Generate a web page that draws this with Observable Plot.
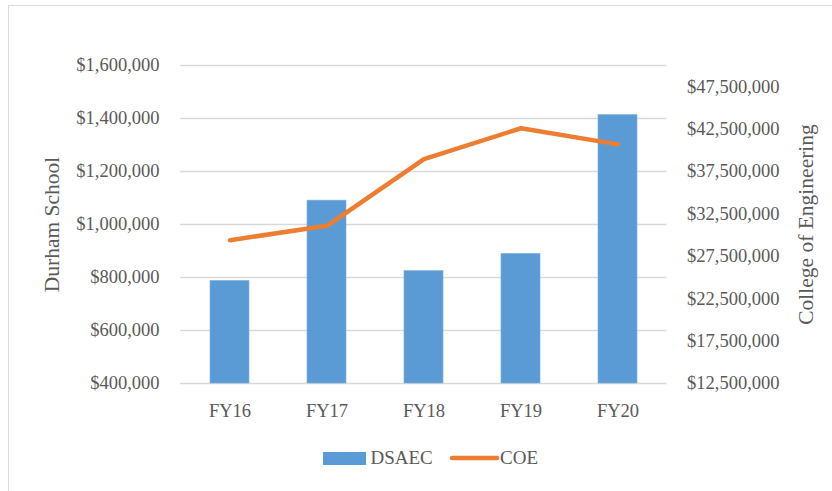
<!DOCTYPE html>
<html>
<head>
<meta charset="utf-8">
<script src="https://cdn.jsdelivr.net/npm/d3@7"></script>
<script src="https://cdn.jsdelivr.net/npm/@observablehq/plot@0.6"></script>
<style>
  html, body { margin: 0; padding: 0; background: #fff; overflow: hidden; width: 832px; height: 491px; }
  #frame { position: absolute; left: 8px; top: 5px; width: 900px; height: 600px; border: 1.5px solid #d9d9d9; box-sizing: border-box; }
  #chart { position: absolute; left: 0; top: 0; }
  #chart svg, #chart svg text { font-family: "Liberation Serif", "Times New Roman", Times, "DejaVu Serif", serif !important; }
  .leg { position: absolute; font-family: "Liberation Serif", "Times New Roman", Times, "DejaVu Serif", serif; font-size: 19px; line-height: 19px; color: #595959; white-space: nowrap; }
</style>
</head>
<body>
<div id="frame"></div>
<div id="chart"></div>
<div id="legend"></div>
<script>
// ---- Data ----
const categories = ["FY16", "FY17", "FY18", "FY19", "FY20"];
const dsaec = [787000, 1090000, 824000, 889000, 1413000];      // Durham School (left axis)
const coe = [29400000, 31100000, 38950000, 42600000, 40700000]; // College of Engineering (right axis)
const leftTicks = [400000, 600000, 800000, 1000000, 1200000, 1400000, 1600000];
const rightTicks = [12500000, 17500000, 22500000, 27500000, 32500000, 37500000, 42500000, 47500000];
const leftDomain = [400000, 1600000];
const rightDomain = [12500000, 50000000];
const seriesNames = ["DSAEC", "COE"];

const colBar = "#5b9bd5", colLine = "#ed7d31", textCol = "#595959", gridCol = "#d9d9d9";

// map right-axis values into left-axis units
const toLeft = v => leftDomain[0] + (v - rightDomain[0]) * (leftDomain[1] - leftDomain[0]) / (rightDomain[1] - rightDomain[0]);
const toRight = v => rightDomain[0] + (v - leftDomain[0]) * (rightDomain[1] - rightDomain[0]) / (leftDomain[1] - leftDomain[0]);
const fmt = d3.format("$,.0f");

const rows = categories.map((c, i) => ({fy: c, dsaec: dsaec[i], coe: coe[i]}));

const chart = Plot.plot({
  width: 832,
  height: 430,
  marginLeft: 180,
  marginRight: 165.5,
  marginTop: 65,
  marginBottom: 47,
  style: {fontFamily: "'Liberation Serif', serif", fontSize: "18.5px", color: textCol, background: "transparent"},
  x: {domain: categories, paddingInner: 0.6, paddingOuter: 0.3},
  y: {domain: leftDomain},
  marks: [
    Plot.gridY(leftTicks, {stroke: gridCol, strokeOpacity: 1, strokeWidth: 1.5}),
    Plot.barY(rows, {x: "fy", y1: leftDomain[0], y2: "dsaec", fill: colBar, stroke: "#7fb0de", strokeWidth: 0.6}),
    Plot.lineY(rows, {x: "fy", y: d => toLeft(d.coe), stroke: colLine, strokeWidth: 4.5, strokeLinecap: "round", strokeLinejoin: "round"}),
    Plot.axisY({anchor: "left", ticks: leftTicks, tickFormat: d => fmt(d), tickSize: 0, tickPadding: 21, label: null, fill: textCol}),
    Plot.axisY({anchor: "right", ticks: rightTicks.map(toLeft), tickFormat: d => fmt(Math.round(toRight(d) / 1000) * 1000), tickSize: 0, tickPadding: 20, label: null, fill: textCol}),
    Plot.axisX({anchor: "bottom", tickSize: 0, tickPadding: 20, label: null, fill: textCol}),
    Plot.text(["Durham School"], {frameAnchor: "left", textAnchor: "middle", dx: -128, rotate: -90, fontSize: 21.5, fill: textCol}),
    Plot.text(["College of Engineering"], {frameAnchor: "right", textAnchor: "middle", dx: 139, rotate: -90, fontSize: 21.5, fill: textCol})
  ]
});
document.getElementById("chart").appendChild(chart);

// ---- Legend ----
const legend = document.getElementById("legend");
legend.innerHTML = `
  <div style="position:absolute;left:323px;top:452px;width:43px;height:12.5px;background:${colBar}"></div>
  <div class="leg" style="left:370.5px;top:448px">${seriesNames[0]}</div>
  <svg style="position:absolute;left:448px;top:452px" width="54" height="12"><line x1="4" y1="6" x2="49" y2="6" stroke="${colLine}" stroke-width="4.5" stroke-linecap="round"/></svg>
  <div class="leg" style="left:500px;top:448px">${seriesNames[1]}</div>
`;
</script>
</body>
</html>
